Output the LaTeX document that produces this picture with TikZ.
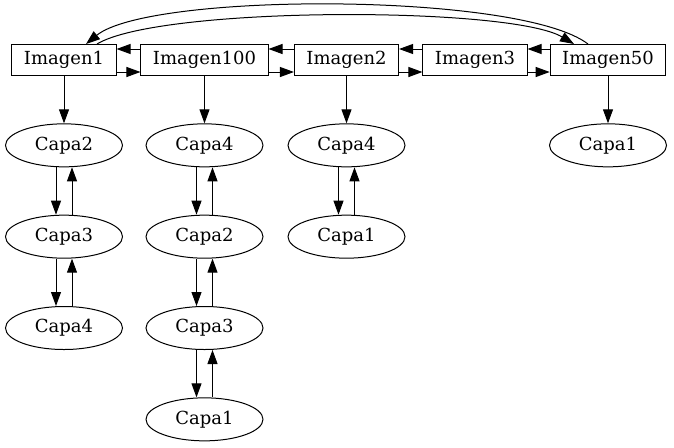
\documentclass[tikz,border=0pt]{standalone}
\usepackage{fontspec}
\setmainfont{DejaVu Serif}
\usetikzlibrary{arrows.meta,positioning,shapes.geometric}
\tikzset{
  >={Triangle[length=10.5pt,width=7.5pt]},
  box/.style={draw,rectangle,line width=0.75pt,inner xsep=9pt,minimum height=23.25pt,
    font=\fontsize{13.5}{16}\selectfont},
  capa/.style={draw,ellipse,line width=0.75pt,minimum width=87.75pt,minimum height=32.25pt,
    font=\fontsize{13.5}{16}\selectfont},
  flow/.style={->,line width=0.75pt},
}
\begin{document}
\begin{tikzpicture}[x=0.75pt,y=-0.75pt,node distance=35.5pt]
    \useasboundingbox (0,0) rectangle (674,447);
    % top row
    \foreach \x/\n/\t in {64/img1/Imagen1,204.5/img100/Imagen100,346.5/img2/Imagen2,
                          475/img3/Imagen3,608/img50/Imagen50}{
      \node[box] (\n) at (\x,60) {\t};
    }
    % columns of layers
    \node[capa,below=of img1] (a2) {Capa2};
    \node[capa,below=of a2] (a3) {Capa3};
    \node[capa,below=of a3] (a4) {Capa4};
    \node[capa,below=of img100] (b4) {Capa4};
    \node[capa,below=of b4] (b2) {Capa2};
    \node[capa,below=of b2] (b3) {Capa3};
    \node[capa,below=of b3] (b1) {Capa1};
    \node[capa,below=of img2] (c4) {Capa4};
    \node[capa,below=of c4] (c1) {Capa1};
    \node[capa,below=of img50] (d1) {Capa1};
    % links between images
    \foreach \p/\q in {img1/img100,img100/img2,img2/img3,img3/img50}{
      \draw[flow] ([yshift=-9pt]\p.east) -- ([yshift=-9pt]\q.west);
      \draw[flow] ([yshift=8.25pt]\q.west) -- ([yshift=8.25pt]\p.east);
    }
    \draw[flow] ([xshift=24.75pt]img1.north) .. controls (160,6) and (510,6) .. ([xshift=-25.5pt]img50.north);
    \draw[flow] ([xshift=-15pt]img50.north) .. controls (520,-8) and (150,-8) .. ([xshift=16.5pt]img1.north);
    % image to first layer
    \foreach \p/\q in {img1/a2,img100/b4,img2/c4,img50/d1}
      \draw[flow] (\p) -- (\q);
    % layer chains
    \foreach \p/\q in {a2/a3,a3/a4,b4/b2,b2/b3,b3/b1,c4/c1}{
      \draw[flow] ([xshift=-6pt]\p.south) -- ([xshift=-6pt]\q.north);
      \draw[flow] ([xshift=6pt]\q.north) -- ([xshift=6pt]\p.south);
    }
\end{tikzpicture}
\end{document}
